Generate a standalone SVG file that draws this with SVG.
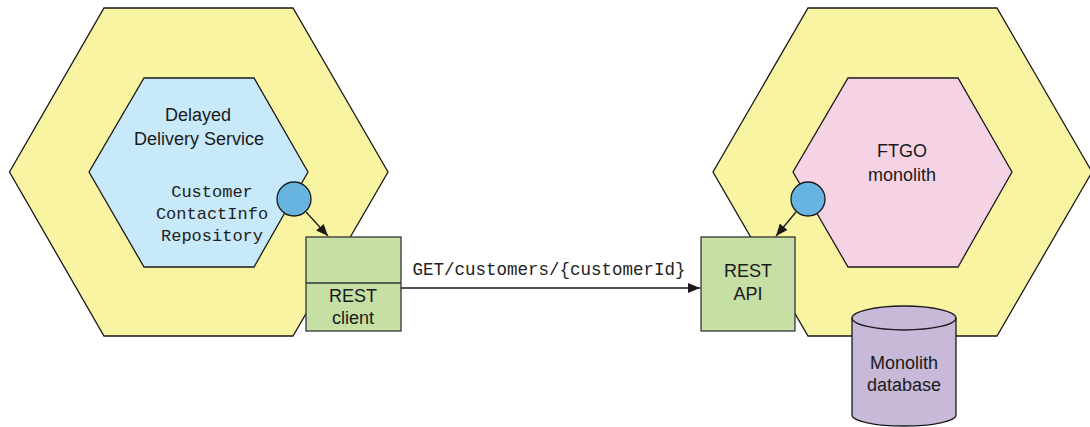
<svg xmlns="http://www.w3.org/2000/svg" width="1090" height="427" viewBox="0 0 1090 427">
<style>
.hex-outer{fill:#f9f4a1;stroke:#1a1a1a;stroke-width:1.3}
.hex-blue{fill:#c8e9f9;stroke:#1a1a1a;stroke-width:1.3}
.hex-pink{fill:#f6d3e4;stroke:#1a1a1a;stroke-width:1.3}
.port{fill:#67b4e1;stroke:#1a1a1a;stroke-width:1.3}
.box{fill:#c5dfa5;stroke:#333;stroke-width:1.3}
.db{fill:#c9b9d9;stroke:#1a1a1a;stroke-width:1.3}
.lbl{font-family:"Liberation Sans",Arial,sans-serif;font-size:18px;fill:#1a1a1a;text-anchor:middle}
.mono{font-family:"Liberation Mono","Courier New",monospace;font-size:17px;fill:#222;text-anchor:middle}
.conn{stroke:#1a1a1a;stroke-width:1.3;fill:none;marker-end:url(#arr)}
</style>
<defs>
<marker id="arr" viewBox="0 0 12 10" refX="12" refY="5" markerWidth="12" markerHeight="10" markerUnits="userSpaceOnUse" orient="auto">
<path d="M0,0 L12,5 L0,10 z" fill="#1a1a1a"/>
</marker>
</defs>
<g id="delayed-delivery-service">
<polygon class="hex-outer" points="104,8 293,8 388,172 293,336 104,336 9.5,172"/>
<polygon class="hex-blue" points="144,78 254,78 308,172 254,267 144,267 89,172"/>
<text class="lbl" x="198" y="121">Delayed</text>
<text class="lbl" x="199" y="145">Delivery Service</text>
<text class="mono" x="212" y="197">Customer</text>
<text class="mono" x="212" y="219">ContactInfo</text>
<text class="mono" x="212" y="241">Repository</text>
<circle class="port" cx="294" cy="199" r="17"/>
</g>
<g id="rest-client">
<rect class="box" x="306" y="237" width="95" height="94"/>
<line x1="306" y1="283" x2="401" y2="283" stroke="#333" stroke-width="1.3"/>
<text class="lbl" x="353" y="302">REST</text>
<text class="lbl" x="353" y="324">client</text>
</g>
<g id="ftgo-monolith">
<polygon class="hex-outer" points="808,8 997,8 1092,172 997,336 808,336 713,172"/>
<polygon class="hex-pink" points="848,78 958,78 1012,172 958,267 848,267 793,172"/>
<text class="lbl" x="902" y="157">FTGO</text>
<text class="lbl" x="902" y="181">monolith</text>
<circle class="port" cx="808" cy="199" r="17"/>
</g>
<g id="rest-api">
<rect class="box" x="701" y="237" width="94" height="94"/>
<text class="lbl" x="748" y="277">REST</text>
<text class="lbl" x="748" y="300">API</text>
</g>
<g id="monolith-database">
<path class="db" d="M852,318 L852,415 A52,11 0 0 0 956,415 L956,318 A52,12 0 0 0 852,318 z"/>
<path d="M852,318 A52,12 0 0 0 956,318" fill="none" stroke="#1a1a1a" stroke-width="1.3"/>
<text class="lbl" x="904" y="369">Monolith</text>
<text class="lbl" x="904" y="391">database</text>
</g>
<g id="connectors">
<line class="conn" x1="306" y1="212" x2="328" y2="236"/>
<line class="conn" x1="796" y1="212" x2="776" y2="236"/>
<line class="conn" x1="401" y1="288" x2="700" y2="288"/>
<text class="mono" x="549" y="275" style="font-size:17.5px">GET/customers/{customerId}</text>
</g>
</svg>
